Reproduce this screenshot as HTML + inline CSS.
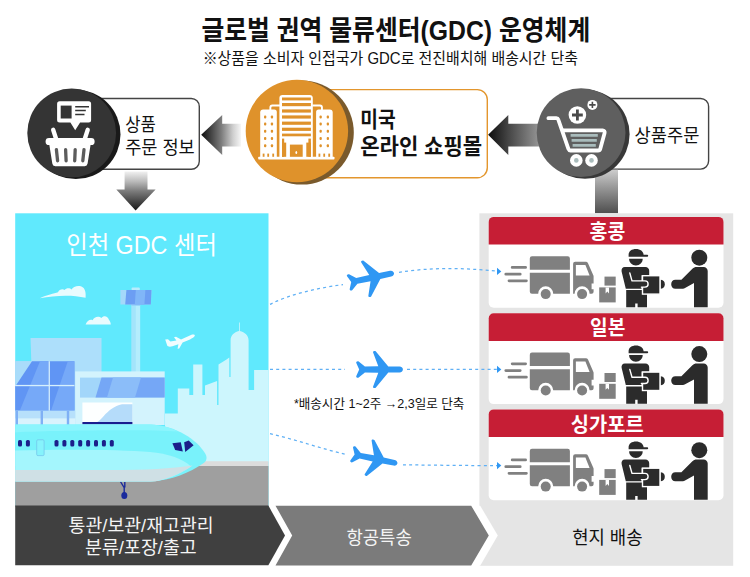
<!DOCTYPE html>
<html lang="ko"><head><meta charset="utf-8"><title>글로벌 권역 물류센터(GDC) 운영체계</title>
<style>html,body{margin:0;padding:0;background:#fff;font-family:"Liberation Sans",sans-serif}svg{display:block}svg text{font-family:"Liberation Sans","Noto Sans CJK KR",sans-serif}</style></head>
<body>
<svg width="750" height="577" viewBox="0 0 750 577" role="img">
<defs>
<linearGradient id="gArrL1" gradientUnits="userSpaceOnUse" x1="201" y1="0" x2="241" y2="0">
 <stop offset="0" stop-color="#0c0c0c"/><stop offset="0.5" stop-color="#7a7a7a"/><stop offset="0.8" stop-color="#cfcfcf"/><stop offset="1" stop-color="#f6f6f6"/></linearGradient>
<linearGradient id="gArrL2" gradientUnits="userSpaceOnUse" x1="488" y1="0" x2="545" y2="0">
 <stop offset="0" stop-color="#0c0c0c"/><stop offset="0.35" stop-color="#444"/><stop offset="1" stop-color="#a4a4a4"/></linearGradient>
<linearGradient id="gArrD" gradientUnits="userSpaceOnUse" x1="0" y1="171" x2="0" y2="211">
 <stop offset="0" stop-color="#f4f4f4"/><stop offset="0.25" stop-color="#bdbdbd"/><stop offset="0.5" stop-color="#7c7c7c"/><stop offset="1" stop-color="#151515"/></linearGradient>
<linearGradient id="gBarV" gradientUnits="userSpaceOnUse" x1="0" y1="169" x2="0" y2="213">
 <stop offset="0" stop-color="#cfcfcf"/><stop offset="0.4" stop-color="#9a9a9a"/><stop offset="1" stop-color="#4f4f4f"/></linearGradient>
<g id="plane"><path d="M21,-2.9C23.2,-2.9 24.4,-1.4 24.4,0C24.4,1.4 23.2,2.9 21,2.9L9.8,3.1L-2.8,18.2C-3.6,19 -6,18.6 -5.4,17L-0.2,3.2L-13.6,2.9L-19.8,8C-21,8.8 -22.8,7.8 -22.2,6.4L-19.3,0L-22.2,-6.4C-22.8,-7.8 -21,-8.8 -19.8,-8L-13.6,-2.9L-0.2,-3.2L-5.4,-17C-6,-18.6 -3.6,-19 -2.8,-18.2L9.8,-3.1Z" fill="#2f97f3"/></g>
</defs>
<rect x="0" y="0" width="750" height="577" fill="#fff"/>
<text x="201.5" y="40.1" font-size="27.6" font-weight="bold" fill="#111" textLength="388.7" lengthAdjust="spacingAndGlyphs">글로벌 권역 물류센터(GDC) 운영체계</text>
<text x="202.7" y="63.6" font-size="15.7" fill="#111" textLength="375.3" lengthAdjust="spacingAndGlyphs">※상품을 소비자 인접국가 GDC로 전진배치해 배송시간 단축</text>
<path d="M201.2,134.8L222.2,115V123.7H241V146.6H222.2V155Z" fill="url(#gArrL1)"/>
<path d="M488.1,134.8L508.3,115V123.7H545V146.6H508.3V155Z" fill="url(#gArrL2)"/>
<path d="M124.6,171.5H147.5V189.6H155.6L135.6,210.5L116.3,189.6H124.6Z" fill="url(#gArrD)"/>
<rect x="595" y="169" width="23" height="44.2" fill="url(#gBarV)"/>
<rect x="80" y="98.5" width="119.3" height="70.8" rx="8" fill="#fff" stroke="#444" stroke-width="1.4"/>
<circle cx="75.8" cy="134.4" r="44.7" fill="#191919"/>
<circle cx="71.7" cy="132.9" r="44.4" fill="#343434"/>
<g fill="#fff">
<path d="M59.6,101.2H88.6a2.5,2.5 0 0 1 2.5,2.5V120a2.5,2.5 0 0 1 -2.5,2.5H80.1L75.2,130.3L70.4,122.5H59.6a2.5,2.5 0 0 1 -2.5,-2.5V103.7a2.5,2.5 0 0 1 2.5,-2.5Z"/>
<rect x="45.6" y="137.9" width="49" height="7.2" rx="3.4"/>
<path d="M49.2,144H90.7L87.6,163.6a3,3 0 0 1 -3,2.6H55.3a3,3 0 0 1 -3,-2.6Z"/>
<path d="M53.2,129.8L56.6,140.4" stroke="#fff" stroke-width="4.4" stroke-linecap="round"/>
<path d="M87.7,129.8L84.3,140.4" stroke="#fff" stroke-width="4.4" stroke-linecap="round"/>
</g>
<rect x="60.7" y="105.6" width="10.9" height="12.9" fill="#343434"/>
<g stroke="#343434" stroke-width="1.5"><path d="M75.2,106.8H89M75.2,110.6H85.8M75.2,114.4H84.5"/></g>
<g stroke="#5c5c5c" stroke-width="3.3" stroke-linecap="round"><path d="M56.4,149.6L57.6,160.8M65.6,149.6L66.1,160.8M75.2,149.6L74.7,160.8M84,149.6L82.8,160.8"/></g>

<text x="125.2" y="130.8" font-size="18.5" fill="#111" textLength="30.6" lengthAdjust="spacingAndGlyphs">상품</text>
<text x="125.2" y="153.9" font-size="18.5" fill="#111" textLength="69.6" lengthAdjust="spacingAndGlyphs">주문 정보</text>
<rect x="290" y="89.6" width="197.3" height="88.2" rx="10" fill="#fff" stroke="#e3962d" stroke-width="1.4"/>
<circle cx="301.8" cy="132.6" r="52" fill="#7a5a2c"/>
<circle cx="296.9" cy="131" r="51.2" fill="#df922b"/>
<g fill="#fff"><path d="M269.4,110.5V107.6a3,3 0 0 1 3,-3H280V106.5H272.6a1.3,1.3 0 0 0 -1.3,1.3V110.5Z"/><path d="M322.9,110.5V107.6a3,3 0 0 0 -3,-3H312.3V106.5H319.7a1.3,1.3 0 0 1 1.3,1.3V110.5Z"/><path d="M260.2,157.5V112.5a3,3 0 0 1 3,-3H274.3a2.5,2.5 0 0 1 2.5,2.5V157.5Z"/><path d="M332.7,157.5V112.5a3,3 0 0 0 -3,-3H318.6a2.5,2.5 0 0 0 -2.5,2.5V157.5Z"/><path d="M279.4,157.5V98.1a3.2,3.2 0 0 1 3.2,-3.2H309.6a3.2,3.2 0 0 1 3.2,3.2V157.5Z"/><rect x="258.2" y="156.8" width="76.3" height="2.8" rx="0.8"/></g><g fill="#df922b"><rect x="282" y="97.5" width="28.9" height="2.9"/><rect x="282" y="103" width="28.9" height="3.2"/><rect x="282" y="109.4" width="28.9" height="3.2"/><rect x="282" y="115.4" width="28.9" height="3.2"/><rect x="282" y="121.6" width="28.9" height="3.2"/><rect x="282" y="127.7" width="28.9" height="3.2"/><rect x="282" y="133.6" width="28.9" height="2.7"/><rect x="282" y="138.6" width="2.2" height="18.2"/><rect x="308.4" y="138.6" width="2.5" height="18.2"/><rect x="282" y="142.6" width="4.2" height="14.2"/><rect x="306.3" y="142.6" width="4.6" height="14.2"/><rect x="289.9" y="144.6" width="12.8" height="12.2"/><rect x="264.0" y="115.4" width="2.3" height="3" rx="1"/><rect x="264.0" y="122.6" width="2.3" height="3" rx="1"/><rect x="264.0" y="129.8" width="2.3" height="3" rx="1"/><rect x="264.0" y="137.0" width="2.3" height="3" rx="1"/><rect x="264.0" y="144.2" width="2.3" height="3" rx="1"/><rect x="270.8" y="115.4" width="2.3" height="3" rx="1"/><rect x="270.8" y="122.6" width="2.3" height="3" rx="1"/><rect x="270.8" y="129.8" width="2.3" height="3" rx="1"/><rect x="270.8" y="137.0" width="2.3" height="3" rx="1"/><rect x="270.8" y="144.2" width="2.3" height="3" rx="1"/><rect x="319.5" y="115.4" width="2.3" height="3" rx="1"/><rect x="319.5" y="122.6" width="2.3" height="3" rx="1"/><rect x="319.5" y="129.8" width="2.3" height="3" rx="1"/><rect x="319.5" y="137.0" width="2.3" height="3" rx="1"/><rect x="319.5" y="144.2" width="2.3" height="3" rx="1"/><rect x="326.7" y="115.4" width="2.3" height="3" rx="1"/><rect x="326.7" y="122.6" width="2.3" height="3" rx="1"/><rect x="326.7" y="129.8" width="2.3" height="3" rx="1"/><rect x="326.7" y="137.0" width="2.3" height="3" rx="1"/><rect x="326.7" y="144.2" width="2.3" height="3" rx="1"/><rect x="262.7" y="153.6" width="1.8" height="3.2"/><rect x="267.3" y="153.6" width="1.8" height="3.2"/><rect x="272.3" y="153.6" width="1.8" height="3.2"/><rect x="318.5" y="153.6" width="1.8" height="3.2"/><rect x="323.3" y="153.6" width="1.8" height="3.2"/><rect x="328.3" y="153.6" width="1.8" height="3.2"/></g><ellipse cx="296.3" cy="152.4" rx="0.9" ry="1.5" fill="#fff"/>
<text x="360.2" y="126.8" font-size="21.6" font-weight="bold" fill="#111" textLength="35.4" lengthAdjust="spacingAndGlyphs">미국</text>
<text x="360.2" y="153.7" font-size="21.6" font-weight="bold" fill="#111" textLength="122" lengthAdjust="spacingAndGlyphs">온라인 쇼핑몰</text>
<rect x="600" y="98.5" width="108.6" height="70.6" rx="8" fill="#fff" stroke="#444" stroke-width="1.4"/>
<rect x="595" y="169.7" width="23" height="10" fill="url(#gBarV)"/>
<circle cx="585" cy="134.2" r="44.6" fill="#383838"/>
<circle cx="581.1" cy="132.7" r="44.4" fill="#5f5f5f"/>
<g fill="none" stroke="#fff" stroke-width="3.8" stroke-linecap="round" stroke-linejoin="round">
<path d="M548.4,118.2H556.4a2,2 0 0 1 1.9,1.4L568.4,148.9a2.4,2.4 0 0 0 2.2,1.6H598a2.4,2.4 0 0 0 2.3,-1.8L604.6,132.9a2,2 0 0 0 -1.9,-2.6H563.4"/>
</g>
<g stroke="#a9bcbc" stroke-width="2.6"><path d="M570.6,135.4H597.8M571.6,140.4H596.8M572.6,145.4H595.8"/></g>
<circle cx="576.3" cy="160.4" r="6.3" fill="#fff"/><circle cx="591.5" cy="160.4" r="6.3" fill="#fff"/>
<circle cx="576.3" cy="160.4" r="2.3" fill="#a9bcbc"/><circle cx="591.5" cy="160.4" r="2.3" fill="#a9bcbc"/>
<circle cx="577.4" cy="115" r="8.8" fill="#fff"/><circle cx="592.4" cy="104.9" r="5" fill="#fff"/>
<g stroke="#4a4a4a" stroke-width="2.8"><path d="M572,115H582.8M577.4,109.6V120.4"/></g>
<g stroke="#4a4a4a" stroke-width="1.6"><path d="M589.2,104.9H595.6M592.4,101.7V108.1"/></g>

<text x="634.6" y="141.5" font-size="18.6" fill="#111" textLength="64.8" lengthAdjust="spacingAndGlyphs">상품주문</text>
<g><rect x="15.2" y="213.3" width="253.3" height="293" fill="#60e9fd"/><path d="M39.8,298.2C47,294.6 54,293.6 58,292.2C59,289.6 62.5,288.6 64.6,290C66,287.8 70,287.6 71.6,289.4C73.4,286 79.4,284.8 83,287.4C85.6,289.4 86,294 85.6,297.8C72,294.6 55,295.4 39.8,298.2Z" fill="#e9fbfe"/><path d="M85.6,324.4C87,321 90,319 92.6,320.2C94,316.6 99,315.6 101.4,318C103.6,315 108,316 108.8,319.6C110,321.4 110.8,323 110.8,324.4Z" fill="#e9fbfe"/><path d="M30.5,338.1H101.5V425H33.5Z" fill="#addffb"/><rect x="15.2" y="361.2" width="60" height="64" fill="#a9dcfa"/><rect x="131.3" y="304" width="8.8" height="68" fill="#a3e4fb"/><rect x="135.8" y="304" width="4.3" height="68" fill="#b4edfd"/><rect x="131.3" y="304.3" width="8.8" height="1.6" fill="#95d2f9"/><rect x="131.6" y="287.4" width="8.2" height="3" rx="1" fill="#b9ecfd"/><path d="M120.4,289.9H151.5L150.8,304.4H124.4L120.4,304.4Z" fill="#a4d8fa"/><path d="M126.4,289.9H151.5L150.8,304.4H125.2Z" fill="#6c9ef3"/><path d="M135.8,289.9H145.4L144.4,304.4H134.8Z" fill="#80b6f8"/><path d="M165.2,339.6L168,339.2L170.4,341.6L176.4,340.4L174,337.2L176,336.8L181,339.4L191,335C193,334.2 195.2,334.6 194.8,335.8C194.4,337 192,338.6 190,339.4L182.6,342.6L179.2,348.6L177.6,348.8L178.4,344.2L172.4,346.2C170,347 167.6,346.6 167.2,345.6L165.2,339.6Z" fill="#f2fdff"/><path d="M165,462V413.4H177.8V388.4H189.3V395H193.2V364.6H202.4V395H205V385.5L217.1,381V405H218.5V364.6L222.5,362L226.5,359.5L229.3,357.6V377H230.6V340.4C230.6,335.4 234,332.2 239,331V322.6H239.8V331C244.8,332.2 248.6,335.4 248.6,340.4V390H254.1V370.1H268.5V462Z" fill="#cdf6fd"/><rect x="75.2" y="371.4" width="89.5" height="53.6" fill="#d3f3fd"/><rect x="80" y="377.6" width="84.7" height="20" fill="#a2d6fa"/><path d="M101.5,377.6H164.7V397.6H95.5Z" fill="#75a7f6"/><path d="M113,377.6H141L135,397.6H107Z" fill="#8bbdf9"/><path d="M15.2,361.2H74.4V410.7H15.2Z" fill="#a9dcfa"/><path d="M32,361.2H74.4V410.7H15.2V386.4Z" fill="#6095f4"/><path d="M40,361.2H48.6V410.7H19.8Z" fill="#76a9f8"/><path d="M67.8,361.2H74.4V410.7H51Z" fill="#76a9f8"/><rect x="48.6" y="361.2" width="1.3" height="49.5" fill="#d6f0fd"/><rect x="15.2" y="384.9" width="59.2" height="1.3" fill="#d6f0fd"/><rect x="15.2" y="410.7" width="60" height="7.6" fill="#b7e0fb"/><rect x="15.2" y="418.3" width="60" height="6.7" fill="#d9f3fd"/><rect x="15.6" y="410.7" width="2.4" height="14.3" fill="#7fb0f5"/><rect x="40.6" y="410.7" width="2.4" height="14.3" fill="#7fb0f5"/><rect x="66.8" y="410.7" width="2.4" height="14.3" fill="#7fb0f5"/><rect x="82.4" y="402.5" width="50" height="20.7" fill="#fdffff"/><path d="M95.5,422.8C103,420.5 106,408 122,404.2H132.4V422.8Z" fill="#b5dcfa"/><rect x="82.4" y="422" width="50" height="2.4" fill="#1a1e8f"/><rect x="15.2" y="461.2" width="253.3" height="5" fill="#dcdcdc"/><rect x="15.2" y="466" width="253.3" height="40.6" fill="#9f9f9f"/><g stroke="#1a2a9c" stroke-width="1.4" fill="none"><path d="M120.4,481.5L124.2,487.6V493M124.8,482V487.6"/></g><ellipse cx="124.3" cy="495.6" rx="3" ry="3.5" fill="#1a2a9c"/><path d="M15.2,424.6H150C176,425.4 197,440 205.2,453.6C207.6,457.8 206.8,461 203,463.6C190,472.4 172,480.6 150,481.6H15.2Z" fill="#79f2fb"/><path d="M15.2,424.6H150C160,424.9 170,427.6 178,431.6C150,429.4 60,430.4 15.2,432.4Z" fill="#8cf5fd"/><path d="M15.2,450.6C60,449 120,449.4 150,452C168,453.6 182,458.6 191,466.4C180,474 166,480.8 150,481.6H15.2Z" fill="#a4f6fd"/><path d="M15.2,470H110C145,470 172,468.6 192.6,465.4C180,474 164,480.8 150,481.6H15.2Z" fill="#cfe0e5"/><rect x="18.0" y="440" width="4" height="6.6" rx="1.6" fill="#1b1f8a"/><rect x="25.9" y="440" width="4" height="6.6" rx="1.6" fill="#1b1f8a"/><rect x="54.5" y="440" width="4" height="6.6" rx="1.6" fill="#1b1f8a"/><rect x="62.4" y="440" width="4" height="6.6" rx="1.6" fill="#1b1f8a"/><rect x="70.3" y="440" width="4" height="6.6" rx="1.6" fill="#1b1f8a"/><rect x="78.2" y="440" width="4" height="6.6" rx="1.6" fill="#1b1f8a"/><rect x="86.1" y="440" width="4" height="6.6" rx="1.6" fill="#1b1f8a"/><rect x="94.0" y="440" width="4" height="6.6" rx="1.6" fill="#1b1f8a"/><rect x="101.9" y="440" width="4" height="6.6" rx="1.6" fill="#1b1f8a"/><rect x="109.8" y="440" width="4" height="6.6" rx="1.6" fill="#1b1f8a"/><rect x="36.7" y="439.8" width="7.4" height="15.8" rx="1.2" fill="#86f3fc" stroke="#74c6ec" stroke-width="0.8"/><path d="M172.4,443.2L180.8,442.2L182.8,451.4L175.2,450Z" fill="#1b1f8a"/><path d="M184.2,442.2L188.7,440.6L193.6,445.2L185.2,452Z" fill="#1b1f8a"/></g>
<text x="66.2" y="253.5" font-size="25.2" fill="#fff" textLength="150.7" lengthAdjust="spacingAndGlyphs">인천 GDC 센터</text>
<path d="M15.2,505.6H268.4L285,535.4L268.4,565.2H15.2Z" fill="#404040"/>
<text x="68.6" y="531.5" font-size="18.2" fill="#f4f4f4" textLength="145" lengthAdjust="spacingAndGlyphs">통관/보관/재고관리</text>
<text x="85.0" y="553.7" font-size="18.0" fill="#f4f4f4" textLength="111.8" lengthAdjust="spacingAndGlyphs">분류/포장/출고</text>
<rect x="479.4" y="213.3" width="253.8" height="352.5" fill="#e5e5e5"/>
<path d="M478,505.7H480.2L497.8,535.4L480.2,565.8H478Z" fill="#fff"/>
<path d="M275.5,505.7H471.2L488.8,535.4L471.2,565.4H275.5L292.2,535.4Z" fill="#7b7b7b"/>
<text x="346.4" y="543.8" font-size="18.3" fill="#f4f4f4" textLength="65.4" lengthAdjust="spacingAndGlyphs">항공특송</text>
<text x="572.2" y="544.3" font-size="18.5" fill="#111" textLength="70.4" lengthAdjust="spacingAndGlyphs">현지 배송</text>
<rect x="488.7" y="216.9" width="234.8" height="90.8" rx="5" fill="#fff"/>
<path d="M488.7,244.6V221.9a5,5 0 0 1 5,-5H718.5a5,5 0 0 1 5,5V244.6Z" fill="#c61e35"/>
<g transform="translate(0,-0.19999999999998863)"><g fill="#808080"><path d="M529.8,269.9V258.6a2.2,2.2 0 0 1 2.2,-2.2H567.7a2.2,2.2 0 0 1 2.2,2.2V269.9Z"/><path d="M529.8,273H569.9V294H553.2a7.5,7.5 0 0 0 -15,0H532a2.2,2.2 0 0 1 -2.2,-2.2Z"/><path d="M573.1,294V264a2,2 0 0 1 2,-2H585.8a2.4,2.4 0 0 1 2.2,1.4L593.2,275.2a3,3 0 0 1 0.4,1.6V283.6H591.6V289.4H593.6V292a2,2 0 0 1 -2,2H589.6a7.5,7.5 0 0 0 -15,0H573.1Z"/><circle cx="545.7" cy="294.3" r="5"/><circle cx="582.1" cy="294.3" r="5"/><rect x="604.5" y="276.8" width="11.2" height="9" /><rect x="599.2" y="287.6" width="16.5" height="15"/></g><path d="M575.9,265.2H585.4L589.6,275.8H575.9Z" fill="#fff"/><path d="M605.6,287.6H609V293.6L607.3,291.8L605.6,293.6Z" fill="#fff"/><g stroke="#808080" stroke-width="2.8" stroke-linecap="round"><path d="M512.2,267.6H525.6M505.8,274.4H520.2M509,281H526.4"/></g></g>
<g transform="translate(0,-0.19999999999998863)"><g fill="#2b2b2b"><path d="M628.6,255.2C628.6,251.4 631.8,249.3 636,249.3C640.2,249.3 643.4,251.6 643.6,255H647.2a1,1 0 0 1 0,2H628.6Z"/><path d="M629.1,258.9H642.7C642.7,262.7 639.7,265.6 635.9,265.6C632.1,265.6 629.1,262.7 629.1,258.9Z"/><path d="M624.8,267.2H645.4C647.8,267.2 649.2,269 649.2,271V275.4H641.6V288.9H625.8L621.6,271.6C621.1,269.2 622.6,267.2 624.8,267.2Z"/><path d="M626.2,290.3H647V307.5H637.6V303.6H635.2V307.5H626.2Z"/><rect x="642.5" y="275.9" width="17.5" height="18.4" stroke="#fff" stroke-width="1.4"/><path d="M660.9,280C663.6,280 664.8,282.2 664.8,284.5C664.8,286.8 663.6,289 660.9,289Z"/><path d="M633,281.1H645a3.1,3.1 0 0 1 0,6.2H633Z"/><path d="M629.8,273.2L632,281.1H645a3.1,3.1 0 0 1 0,6.2H641.4" fill="none" stroke="#fff" stroke-width="1.4" stroke-linejoin="round" stroke-linecap="round"/></g><g fill="#2b2b2b"><circle cx="699.3" cy="257.9" r="8"/><path d="M696.6,267.2H703.6C705.9,267.2 707.7,269 707.7,271.2V307.5H694V283.2L684.6,288.4C683.6,288.8 682.6,288.9 681.6,288.9H675.4C672.8,288.9 671.2,286.8 671.2,284.4C671.2,282 672.8,280 675.4,280H681.4L692.4,269C693.6,267.8 695,267.2 696.6,267.2Z"/></g></g>
<text x="589.6" y="239.2" font-size="20.4" font-weight="bold" fill="#fff" textLength="35.7" lengthAdjust="spacingAndGlyphs">홍콩</text>
<rect x="488.7" y="313.3" width="234.8" height="90.8" rx="5" fill="#fff"/>
<path d="M488.7,341.0V318.3a5,5 0 0 1 5,-5H718.5a5,5 0 0 1 5,5V341.0Z" fill="#c61e35"/>
<g transform="translate(0,96.20000000000002)"><g fill="#808080"><path d="M529.8,269.9V258.6a2.2,2.2 0 0 1 2.2,-2.2H567.7a2.2,2.2 0 0 1 2.2,2.2V269.9Z"/><path d="M529.8,273H569.9V294H553.2a7.5,7.5 0 0 0 -15,0H532a2.2,2.2 0 0 1 -2.2,-2.2Z"/><path d="M573.1,294V264a2,2 0 0 1 2,-2H585.8a2.4,2.4 0 0 1 2.2,1.4L593.2,275.2a3,3 0 0 1 0.4,1.6V283.6H591.6V289.4H593.6V292a2,2 0 0 1 -2,2H589.6a7.5,7.5 0 0 0 -15,0H573.1Z"/><circle cx="545.7" cy="294.3" r="5"/><circle cx="582.1" cy="294.3" r="5"/><rect x="604.5" y="276.8" width="11.2" height="9" /><rect x="599.2" y="287.6" width="16.5" height="15"/></g><path d="M575.9,265.2H585.4L589.6,275.8H575.9Z" fill="#fff"/><path d="M605.6,287.6H609V293.6L607.3,291.8L605.6,293.6Z" fill="#fff"/><g stroke="#808080" stroke-width="2.8" stroke-linecap="round"><path d="M512.2,267.6H525.6M505.8,274.4H520.2M509,281H526.4"/></g></g>
<g transform="translate(0,96.20000000000002)"><g fill="#2b2b2b"><path d="M628.6,255.2C628.6,251.4 631.8,249.3 636,249.3C640.2,249.3 643.4,251.6 643.6,255H647.2a1,1 0 0 1 0,2H628.6Z"/><path d="M629.1,258.9H642.7C642.7,262.7 639.7,265.6 635.9,265.6C632.1,265.6 629.1,262.7 629.1,258.9Z"/><path d="M624.8,267.2H645.4C647.8,267.2 649.2,269 649.2,271V275.4H641.6V288.9H625.8L621.6,271.6C621.1,269.2 622.6,267.2 624.8,267.2Z"/><path d="M626.2,290.3H647V307.5H637.6V303.6H635.2V307.5H626.2Z"/><rect x="642.5" y="275.9" width="17.5" height="18.4" stroke="#fff" stroke-width="1.4"/><path d="M660.9,280C663.6,280 664.8,282.2 664.8,284.5C664.8,286.8 663.6,289 660.9,289Z"/><path d="M633,281.1H645a3.1,3.1 0 0 1 0,6.2H633Z"/><path d="M629.8,273.2L632,281.1H645a3.1,3.1 0 0 1 0,6.2H641.4" fill="none" stroke="#fff" stroke-width="1.4" stroke-linejoin="round" stroke-linecap="round"/></g><g fill="#2b2b2b"><circle cx="699.3" cy="257.9" r="8"/><path d="M696.6,267.2H703.6C705.9,267.2 707.7,269 707.7,271.2V307.5H694V283.2L684.6,288.4C683.6,288.8 682.6,288.9 681.6,288.9H675.4C672.8,288.9 671.2,286.8 671.2,284.4C671.2,282 672.8,280 675.4,280H681.4L692.4,269C693.6,267.8 695,267.2 696.6,267.2Z"/></g></g>
<text x="590.0" y="335.3" font-size="20.3" font-weight="bold" fill="#fff" textLength="35.3" lengthAdjust="spacingAndGlyphs">일본</text>
<rect x="488.7" y="409.4" width="234.8" height="90.8" rx="5" fill="#fff"/>
<path d="M488.7,437.1V414.4a5,5 0 0 1 5,-5H718.5a5,5 0 0 1 5,5V437.1Z" fill="#c61e35"/>
<g transform="translate(0,192.29999999999998)"><g fill="#808080"><path d="M529.8,269.9V258.6a2.2,2.2 0 0 1 2.2,-2.2H567.7a2.2,2.2 0 0 1 2.2,2.2V269.9Z"/><path d="M529.8,273H569.9V294H553.2a7.5,7.5 0 0 0 -15,0H532a2.2,2.2 0 0 1 -2.2,-2.2Z"/><path d="M573.1,294V264a2,2 0 0 1 2,-2H585.8a2.4,2.4 0 0 1 2.2,1.4L593.2,275.2a3,3 0 0 1 0.4,1.6V283.6H591.6V289.4H593.6V292a2,2 0 0 1 -2,2H589.6a7.5,7.5 0 0 0 -15,0H573.1Z"/><circle cx="545.7" cy="294.3" r="5"/><circle cx="582.1" cy="294.3" r="5"/><rect x="604.5" y="276.8" width="11.2" height="9" /><rect x="599.2" y="287.6" width="16.5" height="15"/></g><path d="M575.9,265.2H585.4L589.6,275.8H575.9Z" fill="#fff"/><path d="M605.6,287.6H609V293.6L607.3,291.8L605.6,293.6Z" fill="#fff"/><g stroke="#808080" stroke-width="2.8" stroke-linecap="round"><path d="M512.2,267.6H525.6M505.8,274.4H520.2M509,281H526.4"/></g></g>
<g transform="translate(0,192.29999999999998)"><g fill="#2b2b2b"><path d="M628.6,255.2C628.6,251.4 631.8,249.3 636,249.3C640.2,249.3 643.4,251.6 643.6,255H647.2a1,1 0 0 1 0,2H628.6Z"/><path d="M629.1,258.9H642.7C642.7,262.7 639.7,265.6 635.9,265.6C632.1,265.6 629.1,262.7 629.1,258.9Z"/><path d="M624.8,267.2H645.4C647.8,267.2 649.2,269 649.2,271V275.4H641.6V288.9H625.8L621.6,271.6C621.1,269.2 622.6,267.2 624.8,267.2Z"/><path d="M626.2,290.3H647V307.5H637.6V303.6H635.2V307.5H626.2Z"/><rect x="642.5" y="275.9" width="17.5" height="18.4" stroke="#fff" stroke-width="1.4"/><path d="M660.9,280C663.6,280 664.8,282.2 664.8,284.5C664.8,286.8 663.6,289 660.9,289Z"/><path d="M633,281.1H645a3.1,3.1 0 0 1 0,6.2H633Z"/><path d="M629.8,273.2L632,281.1H645a3.1,3.1 0 0 1 0,6.2H641.4" fill="none" stroke="#fff" stroke-width="1.4" stroke-linejoin="round" stroke-linecap="round"/></g><g fill="#2b2b2b"><circle cx="699.3" cy="257.9" r="8"/><path d="M696.6,267.2H703.6C705.9,267.2 707.7,269 707.7,271.2V307.5H694V283.2L684.6,288.4C683.6,288.8 682.6,288.9 681.6,288.9H675.4C672.8,288.9 671.2,286.8 671.2,284.4C671.2,282 672.8,280 675.4,280H681.4L692.4,269C693.6,267.8 695,267.2 696.6,267.2Z"/></g></g>
<text x="570.8" y="431.5" font-size="20.3" font-weight="bold" fill="#fff" textLength="72.8" lengthAdjust="spacingAndGlyphs">싱가포르</text>
<g fill="none" stroke="#5fb0f5" stroke-width="1.25" stroke-dasharray="3 3.2"><path d="M270,304.4C290,294 318,288 343,284.6"/><path d="M399,272.4C430,267.2 465,267.8 497,271.2"/><path d="M270,369.4H345"/><path d="M407,369.4H497"/><path d="M270,433.6C295,439.4 322,449 346,454.4"/><path d="M403,464.8C435,465.2 470,465.6 497,465.6"/></g>
<path d="M497,267.79999999999995L501.3,271.4L497,275.0Z" fill="#2f97f3"/>
<path d="M497,365.79999999999995L501.3,369.4L497,373.0Z" fill="#2f97f3"/>
<path d="M497,462.0L501.3,465.6L497,469.20000000000005Z" fill="#2f97f3"/>
<use href="#plane" transform="translate(370.1,278) rotate(-12)"/>
<use href="#plane" transform="translate(378.5,369.5)"/>
<use href="#plane" transform="translate(373.5,458.5) rotate(11.6)"/>
<text x="293.9" y="408.3" font-size="12.7" fill="#111" textLength="170.5" lengthAdjust="spacingAndGlyphs">*배송시간 1~2주 →2,3일로 단축</text>
</svg>
</body></html>
